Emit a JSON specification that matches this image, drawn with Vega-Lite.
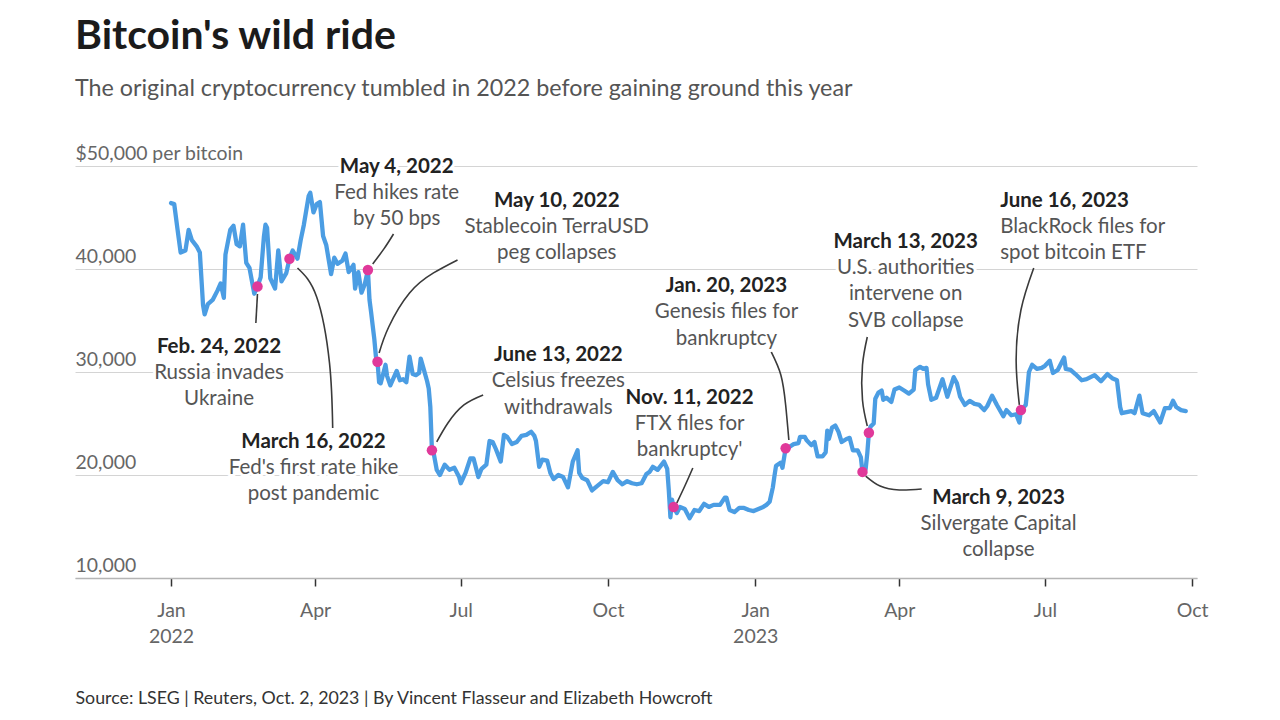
{
"$schema": "https://vega.github.io/schema/vega-lite/v6.json",
"width": 1122,
"height": 412,
"autosize": {"type": "none"},
"padding": {"left": 75, "top": 166, "right": 83, "bottom": 142},
"background": "white",
"config": {"view": {"stroke": null}, "font": "Lato"},
"title": {"text": "Bitcoin's wild ride", "subtitle": "The original cryptocurrency tumbled in 2022 before gaining ground this year", "anchor": "start", "frame": "group", "font": "Lato", "fontSize": 41, "fontWeight": "bold", "color": "#1b1b1b", "subtitleFont": "Lato", "subtitleFontSize": 23.3, "subtitleColor": "#555555", "subtitlePadding": 20, "offset": 42},
"datasets": {
"btc": [
{"date":"2022-01-01","price":46400},{"date":"2022-01-03","price":46300},{"date":"2022-01-05","price":43900},{"date":"2022-01-07","price":41600},{"date":"2022-01-10","price":41800},{"date":"2022-01-12","price":43800},{"date":"2022-01-14","price":42800},{"date":"2022-01-17","price":42200},{"date":"2022-01-19","price":41600},{"date":"2022-01-21","price":36500},{"date":"2022-01-22","price":35600},{"date":"2022-01-24","price":36600},{"date":"2022-01-27","price":37000},{"date":"2022-01-30","price":37900},
{"date":"2022-02-01","price":38600},{"date":"2022-02-03","price":37200},{"date":"2022-02-04","price":41400},{"date":"2022-02-07","price":43800},{"date":"2022-02-09","price":44200},{"date":"2022-02-11","price":42400},{"date":"2022-02-13","price":42200},{"date":"2022-02-15","price":44300},{"date":"2022-02-17","price":40600},{"date":"2022-02-19","price":40100},{"date":"2022-02-22","price":37600},{"date":"2022-02-24","price":38300},{"date":"2022-02-26","price":39200},{"date":"2022-02-28","price":43100},
{"date":"2022-03-01","price":44300},{"date":"2022-03-02","price":44000},{"date":"2022-03-04","price":39100},{"date":"2022-03-07","price":38100},{"date":"2022-03-09","price":41800},{"date":"2022-03-11","price":38800},{"date":"2022-03-14","price":39600},{"date":"2022-03-16","price":41000},{"date":"2022-03-18","price":41800},{"date":"2022-03-21","price":41000},{"date":"2022-03-23","price":42800},{"date":"2022-03-25","price":44300},{"date":"2022-03-28","price":47100},{"date":"2022-03-29","price":47400},{"date":"2022-03-31","price":45500},
{"date":"2022-04-02","price":46300},{"date":"2022-04-04","price":46500},{"date":"2022-04-06","price":43200},{"date":"2022-04-08","price":42300},{"date":"2022-04-11","price":39500},{"date":"2022-04-13","price":41100},{"date":"2022-04-15","price":40500},{"date":"2022-04-18","price":40800},{"date":"2022-04-20","price":41500},{"date":"2022-04-22","price":39700},{"date":"2022-04-25","price":40400},{"date":"2022-04-26","price":38100},{"date":"2022-04-28","price":39700},{"date":"2022-04-30","price":37700},
{"date":"2022-05-02","price":38500},{"date":"2022-05-04","price":39900},{"date":"2022-05-05","price":37000},{"date":"2022-05-06","price":35800},{"date":"2022-05-07","price":34500},{"date":"2022-05-08","price":33200},{"date":"2022-05-09","price":31500},{"date":"2022-05-10","price":31000},{"date":"2022-05-11","price":29000},{"date":"2022-05-12","price":28900},{"date":"2022-05-14","price":30100},{"date":"2022-05-15","price":30700},{"date":"2022-05-16","price":29600},{"date":"2022-05-18","price":28700},{"date":"2022-05-20","price":29400},{"date":"2022-05-22","price":30100},{"date":"2022-05-24","price":29200},{"date":"2022-05-26","price":29300},{"date":"2022-05-28","price":29000},{"date":"2022-05-30","price":31500},
{"date":"2022-06-01","price":29800},{"date":"2022-06-03","price":29700},{"date":"2022-06-05","price":29900},{"date":"2022-06-06","price":31300},{"date":"2022-06-08","price":30200},{"date":"2022-06-10","price":29100},{"date":"2022-06-11","price":28400},{"date":"2022-06-12","price":26600},{"date":"2022-06-13","price":22400},{"date":"2022-06-14","price":22200},{"date":"2022-06-16","price":20500},{"date":"2022-06-18","price":20000},{"date":"2022-06-21","price":21000},{"date":"2022-06-24","price":20500},{"date":"2022-06-27","price":20700},{"date":"2022-06-30","price":19800},
{"date":"2022-07-01","price":19200},{"date":"2022-07-04","price":20200},{"date":"2022-07-07","price":21600},{"date":"2022-07-09","price":21600},{"date":"2022-07-12","price":19800},{"date":"2022-07-14","price":20600},{"date":"2022-07-17","price":21000},{"date":"2022-07-19","price":23300},{"date":"2022-07-21","price":23200},{"date":"2022-07-23","price":22500},{"date":"2022-07-26","price":21300},{"date":"2022-07-28","price":23900},{"date":"2022-07-30","price":23700},
{"date":"2022-08-02","price":23000},{"date":"2022-08-05","price":23200},{"date":"2022-08-08","price":23800},{"date":"2022-08-11","price":23900},{"date":"2022-08-14","price":24200},{"date":"2022-08-16","price":23800},{"date":"2022-08-17","price":23300},{"date":"2022-08-19","price":20800},{"date":"2022-08-21","price":21500},{"date":"2022-08-24","price":21400},{"date":"2022-08-26","price":20200},{"date":"2022-08-28","price":19600},{"date":"2022-08-31","price":20000},
{"date":"2022-09-03","price":19800},{"date":"2022-09-06","price":18800},{"date":"2022-09-09","price":21300},{"date":"2022-09-12","price":22400},{"date":"2022-09-13","price":20200},{"date":"2022-09-15","price":19700},{"date":"2022-09-18","price":19500},{"date":"2022-09-21","price":18500},{"date":"2022-09-24","price":18900},{"date":"2022-09-28","price":19400},
{"date":"2022-10-01","price":19300},{"date":"2022-10-04","price":20300},{"date":"2022-10-07","price":19500},{"date":"2022-10-10","price":19100},{"date":"2022-10-13","price":19400},{"date":"2022-10-16","price":19200},{"date":"2022-10-19","price":19100},{"date":"2022-10-22","price":19200},{"date":"2022-10-25","price":20100},{"date":"2022-10-27","price":20300},{"date":"2022-10-29","price":20800},
{"date":"2022-11-01","price":20500},{"date":"2022-11-05","price":21300},{"date":"2022-11-07","price":20600},{"date":"2022-11-08","price":18500},{"date":"2022-11-09","price":15900},{"date":"2022-11-10","price":17600},{"date":"2022-11-11","price":16900},{"date":"2022-11-13","price":16300},{"date":"2022-11-15","price":16900},{"date":"2022-11-18","price":16700},{"date":"2022-11-21","price":15800},{"date":"2022-11-24","price":16600},{"date":"2022-11-27","price":16500},{"date":"2022-11-30","price":17200},
{"date":"2022-12-03","price":16900},{"date":"2022-12-06","price":17100},{"date":"2022-12-10","price":17100},{"date":"2022-12-13","price":17800},{"date":"2022-12-14","price":17800},{"date":"2022-12-16","price":16600},{"date":"2022-12-19","price":16400},{"date":"2022-12-22","price":16800},{"date":"2022-12-25","price":16800},{"date":"2022-12-28","price":16600},{"date":"2022-12-31","price":16500},
{"date":"2023-01-03","price":16700},{"date":"2023-01-06","price":16900},{"date":"2023-01-08","price":17100},{"date":"2023-01-10","price":17400},{"date":"2023-01-12","price":18800},{"date":"2023-01-13","price":19900},{"date":"2023-01-14","price":20900},{"date":"2023-01-17","price":21200},{"date":"2023-01-18","price":20700},{"date":"2023-01-20","price":22600},{"date":"2023-01-22","price":22700},{"date":"2023-01-25","price":23000},{"date":"2023-01-28","price":23100},{"date":"2023-01-29","price":23700},
{"date":"2023-02-01","price":23700},{"date":"2023-02-02","price":23400},{"date":"2023-02-05","price":22900},{"date":"2023-02-07","price":23200},{"date":"2023-02-09","price":21800},{"date":"2023-02-12","price":21800},{"date":"2023-02-14","price":22200},{"date":"2023-02-15","price":24300},{"date":"2023-02-16","price":23500},{"date":"2023-02-18","price":24600},{"date":"2023-02-20","price":24800},{"date":"2023-02-22","price":24200},{"date":"2023-02-24","price":23200},{"date":"2023-02-27","price":23500},
{"date":"2023-03-01","price":23600},{"date":"2023-03-03","price":22400},{"date":"2023-03-06","price":22400},{"date":"2023-03-08","price":21700},{"date":"2023-03-09","price":20300},{"date":"2023-03-10","price":20200},{"date":"2023-03-11","price":20600},{"date":"2023-03-12","price":22100},{"date":"2023-03-13","price":24100},{"date":"2023-03-14","price":24700},{"date":"2023-03-16","price":25000},{"date":"2023-03-17","price":27400},{"date":"2023-03-19","price":28000},{"date":"2023-03-21","price":28200},{"date":"2023-03-22","price":27300},{"date":"2023-03-24","price":27500},{"date":"2023-03-27","price":27100},{"date":"2023-03-29","price":28300},
{"date":"2023-04-01","price":28500},{"date":"2023-04-04","price":28200},{"date":"2023-04-07","price":27900},{"date":"2023-04-10","price":28300},{"date":"2023-04-11","price":30200},{"date":"2023-04-14","price":30500},{"date":"2023-04-16","price":30300},{"date":"2023-04-18","price":30400},{"date":"2023-04-19","price":28800},{"date":"2023-04-21","price":27300},{"date":"2023-04-24","price":27500},{"date":"2023-04-26","price":28400},{"date":"2023-04-28","price":29300},
{"date":"2023-05-01","price":27600},{"date":"2023-05-04","price":29000},{"date":"2023-05-05","price":29500},{"date":"2023-05-07","price":28900},{"date":"2023-05-09","price":27600},{"date":"2023-05-12","price":26800},{"date":"2023-05-15","price":27200},{"date":"2023-05-18","price":26900},{"date":"2023-05-21","price":26800},{"date":"2023-05-24","price":26300},{"date":"2023-05-26","price":26700},{"date":"2023-05-29","price":27700},
{"date":"2023-06-01","price":26800},{"date":"2023-06-05","price":25700},{"date":"2023-06-07","price":26300},{"date":"2023-06-10","price":25800},{"date":"2023-06-13","price":25900},{"date":"2023-06-15","price":25100},{"date":"2023-06-16","price":26300},{"date":"2023-06-19","price":26800},{"date":"2023-06-20","price":28300},{"date":"2023-06-21","price":30000},{"date":"2023-06-23","price":30700},{"date":"2023-06-26","price":30300},{"date":"2023-06-29","price":30400},
{"date":"2023-07-01","price":30600},{"date":"2023-07-04","price":31100},{"date":"2023-07-06","price":29900},{"date":"2023-07-09","price":30200},{"date":"2023-07-13","price":31400},{"date":"2023-07-14","price":30300},{"date":"2023-07-17","price":30200},{"date":"2023-07-20","price":29800},{"date":"2023-07-24","price":29200},{"date":"2023-07-27","price":29300},
{"date":"2023-08-01","price":29700},{"date":"2023-08-05","price":29100},{"date":"2023-08-09","price":29800},{"date":"2023-08-12","price":29400},{"date":"2023-08-15","price":29200},{"date":"2023-08-17","price":26600},{"date":"2023-08-18","price":26000},{"date":"2023-08-21","price":26100},{"date":"2023-08-24","price":26200},{"date":"2023-08-26","price":26000},{"date":"2023-08-29","price":27700},{"date":"2023-08-31","price":26000},
{"date":"2023-09-04","price":25800},{"date":"2023-09-07","price":26200},{"date":"2023-09-11","price":25100},{"date":"2023-09-14","price":26500},{"date":"2023-09-17","price":26500},{"date":"2023-09-19","price":27200},{"date":"2023-09-21","price":26600},{"date":"2023-09-24","price":26300},{"date":"2023-09-27","price":26200}
],
"events": [
{"title":"Feb. 24, 2022","desc":"Russia invades\nUkraine","date":"2022-02-24","price":38300,"ldate":"2022-01-31","lvalue":33400},
{"title":"March 16, 2022","desc":"Fed's first rate hike\npost pandemic","date":"2022-03-16","price":41000,"ldate":"2022-03-31","lvalue":24180},
{"title":"May 4, 2022","desc":"Fed hikes rate\nby 50 bps","date":"2022-05-04","price":39900,"ldate":"2022-05-22","lvalue":50880},
{"title":"May 10, 2022","desc":"Stablecoin TerraUSD\npeg collapses","date":"2022-05-10","price":31000,"ldate":"2022-08-30","lvalue":47580},
{"title":"June 13, 2022","desc":"Celsius freezes\nwithdrawals","date":"2022-06-13","price":22400,"ldate":"2022-08-31","lvalue":32620},
{"title":"Nov. 11, 2022","desc":"FTX files for\nbankruptcy'","date":"2022-11-11","price":16900,"ldate":"2022-11-21","lvalue":28450},
{"title":"Jan. 20, 2023","desc":"Genesis files for\nbankruptcy","date":"2023-01-20","price":22600,"ldate":"2022-12-14","lvalue":39320},
{"title":"March 9, 2023","desc":"Silvergate Capital\ncollapse","date":"2023-03-09","price":20300,"ldate":"2023-06-02","lvalue":18740},
{"title":"March 13, 2023","desc":"U.S. authorities\nintervene on\nSVB collapse","date":"2023-03-13","price":24100,"ldate":"2023-04-05","lvalue":43600},
{"title":"June 16, 2023","desc":"BlackRock files for\nspot bitcoin ETF","date":"2023-06-16","price":26300,"ldate":"2023-06-03","lvalue":47580}
],
"conn": [
{"id":"c1","i":1,"date":"2022-05-07","price":40490},{"id":"c1","i":2,"date":"2022-05-14","price":41950},{"id":"c1","i":3,"date":"2022-05-20","price":43400},
{"id":"c2","i":1,"date":"2022-05-11","price":31850},{"id":"c2","i":2,"date":"2022-05-17","price":34370},{"id":"c2","i":3,"date":"2022-05-30","price":37670},{"id":"c2","i":4,"date":"2022-06-14","price":39620},{"id":"c2","i":5,"date":"2022-06-29","price":40880},
{"id":"c3","i":1,"date":"2022-02-24","price":37580},{"id":"c3","i":2,"date":"2022-02-23","price":34760},
{"id":"c4","i":1,"date":"2022-03-21","price":40100},{"id":"c4","i":2,"date":"2022-04-02","price":37290},{"id":"c4","i":3,"date":"2022-04-10","price":30880},{"id":"c4","i":4,"date":"2022-04-12","price":24570},
{"id":"c5","i":1,"date":"2022-06-16","price":23210},{"id":"c5","i":2,"date":"2022-06-23","price":25050},{"id":"c5","i":3,"date":"2022-07-03","price":26800},{"id":"c5","i":4,"date":"2022-07-15","price":27770},
{"id":"c6","i":1,"date":"2022-11-13","price":17280},{"id":"c6","i":2,"date":"2022-11-18","price":18930},{"id":"c6","i":3,"date":"2022-11-23","price":20680},
{"id":"c7","i":1,"date":"2023-01-22","price":23400},{"id":"c7","i":2,"date":"2023-01-20","price":26800},{"id":"c7","i":3,"date":"2023-01-17","price":29710},{"id":"c7","i":4,"date":"2023-01-11","price":31950},
{"id":"c8","i":1,"date":"2023-03-12","price":33400},{"id":"c8","i":2,"date":"2023-03-09","price":30680},{"id":"c8","i":3,"date":"2023-03-09","price":27280},{"id":"c8","i":4,"date":"2023-03-12","price":24760},
{"id":"c9","i":1,"date":"2023-03-11","price":19900},{"id":"c9","i":2,"date":"2023-03-20","price":18930},{"id":"c9","i":3,"date":"2023-04-01","price":18550},{"id":"c9","i":4,"date":"2023-04-15","price":18640},
{"id":"c10","i":1,"date":"2023-06-24","price":40100},{"id":"c10","i":2,"date":"2023-06-16","price":36020},{"id":"c10","i":3,"date":"2023-06-13","price":31170},{"id":"c10","i":4,"date":"2023-06-15","price":26800}
]
},
"layer": [
{"data": {"name": "btc"},
 "mark": {"type": "line", "color": "#4b9de3", "strokeWidth": 4.3, "strokeJoin": "round", "strokeCap": "round"},
 "encoding": {
  "x": {"field": "date", "type": "temporal",
   "scale": {"type": "utc", "domain": [{"year": 2021, "month": 11, "date": 2, "utc": true}, {"year": 2023, "month": 10, "date": 4, "utc": true}]},
   "axis": {"values": [{"year": 2022, "month": 1, "date": 1, "utc": true}, {"year": 2022, "month": 4, "date": 1, "utc": true}, {"year": 2022, "month": 7, "date": 1, "utc": true}, {"year": 2022, "month": 10, "date": 1, "utc": true}, {"year": 2023, "month": 1, "date": 1, "utc": true}, {"year": 2023, "month": 4, "date": 1, "utc": true}, {"year": 2023, "month": 7, "date": 1, "utc": true}, {"year": 2023, "month": 10, "date": 1, "utc": true}],
    "labelExpr": "utcFormat(datum.value, '%m') == '01' ? [utcFormat(datum.value, '%b'), utcFormat(datum.value, '%Y')] : utcFormat(datum.value, '%b')",
    "grid": false, "tickSize": 8, "tickColor": "#333333", "tickWidth": 1.5, "domainColor": "#b5b5b5", "domainWidth": 1.5,
    "labelFont": "Lato", "labelFontSize": 19.5, "labelColor": "#666666", "labelPadding": 15, "labelLineHeight": 26, "labelOverlap": false, "labelFlush": false,
    "title": "Source: LSEG | Reuters, Oct. 2, 2023 | By Vincent Flasseur and Elizabeth Howcroft",
    "titleAnchor": "start", "titleAlign": "left", "titleFont": "Lato", "titleFontSize": 17.8, "titleFontWeight": "normal", "titleColor": "#333333", "titlePadding": 44}},
  "y": {"field": "price", "type": "quantitative",
   "scale": {"domain": [10000, 50000], "nice": false, "zero": false},
   "axis": {"values": [10000, 20000, 30000, 40000, 50000], "labelExpr": "datum.value == 50000 ? '$50,000 per bitcoin' : format(datum.value, ',')",
    "domain": false, "ticks": false, "tickSize": 0, "labelAlign": "left", "labelBaseline": "alphabetic", "labelPadding": 0, "labelOffset": -7,
    "labelFont": "Lato", "labelFontSize": 19.4, "labelColor": "#666666", "grid": true, "gridColor": "#d4d4d4", "gridWidth": 1, "title": null}}
 }},
{"data": {"name": "conn"},
 "mark": {"type": "line", "color": "#3a3a3a", "strokeWidth": 1.6, "interpolate": "natural"},
 "encoding": {"x": {"field": "date", "type": "temporal"}, "y": {"field": "price", "type": "quantitative"}, "detail": {"field": "id"}, "order": {"field": "i", "type": "quantitative"}}},
{"data": {"name": "events"},
 "mark": {"type": "point", "filled": true, "color": "#e0399a", "size": 110, "opacity": 1},
 "encoding": {"x": {"field": "date", "type": "temporal"}, "y": {"field": "price", "type": "quantitative"}}},
{"data": {"name": "events"},
 "mark": {"type": "text", "font": "Lato", "fontSize": 20.5, "fontWeight": "bold", "baseline": "top", "color": "white", "stroke": "white", "strokeWidth": 6, "strokeJoin": "round", "align": {"expr": "datum.title == 'June 16, 2023' ? 'left' : 'center'"}},
 "encoding": {"x": {"field": "ldate", "type": "temporal"}, "y": {"field": "lvalue", "type": "quantitative"}, "text": {"field": "title"}}},
{"data": {"name": "events"},
 "mark": {"type": "text", "font": "Lato", "fontSize": 20.5, "baseline": "top", "dy": 26, "lineBreak": "\n", "lineHeight": 26.5, "color": "white", "stroke": "white", "strokeWidth": 6, "strokeJoin": "round", "align": {"expr": "datum.title == 'June 16, 2023' ? 'left' : 'center'"}},
 "encoding": {"x": {"field": "ldate", "type": "temporal"}, "y": {"field": "lvalue", "type": "quantitative"}, "text": {"field": "desc"}}},
{"data": {"name": "events"},
 "mark": {"type": "text", "font": "Lato", "fontSize": 20.5, "fontWeight": "bold", "baseline": "top", "color": "#222222", "align": {"expr": "datum.title == 'June 16, 2023' ? 'left' : 'center'"}},
 "encoding": {"x": {"field": "ldate", "type": "temporal"}, "y": {"field": "lvalue", "type": "quantitative"}, "text": {"field": "title"}}},
{"data": {"name": "events"},
 "mark": {"type": "text", "font": "Lato", "fontSize": 20.5, "baseline": "top", "dy": 26, "lineBreak": "\n", "lineHeight": 26.5, "color": "#555555", "align": {"expr": "datum.title == 'June 16, 2023' ? 'left' : 'center'"}},
 "encoding": {"x": {"field": "ldate", "type": "temporal"}, "y": {"field": "lvalue", "type": "quantitative"}, "text": {"field": "desc"}}}
]
}
